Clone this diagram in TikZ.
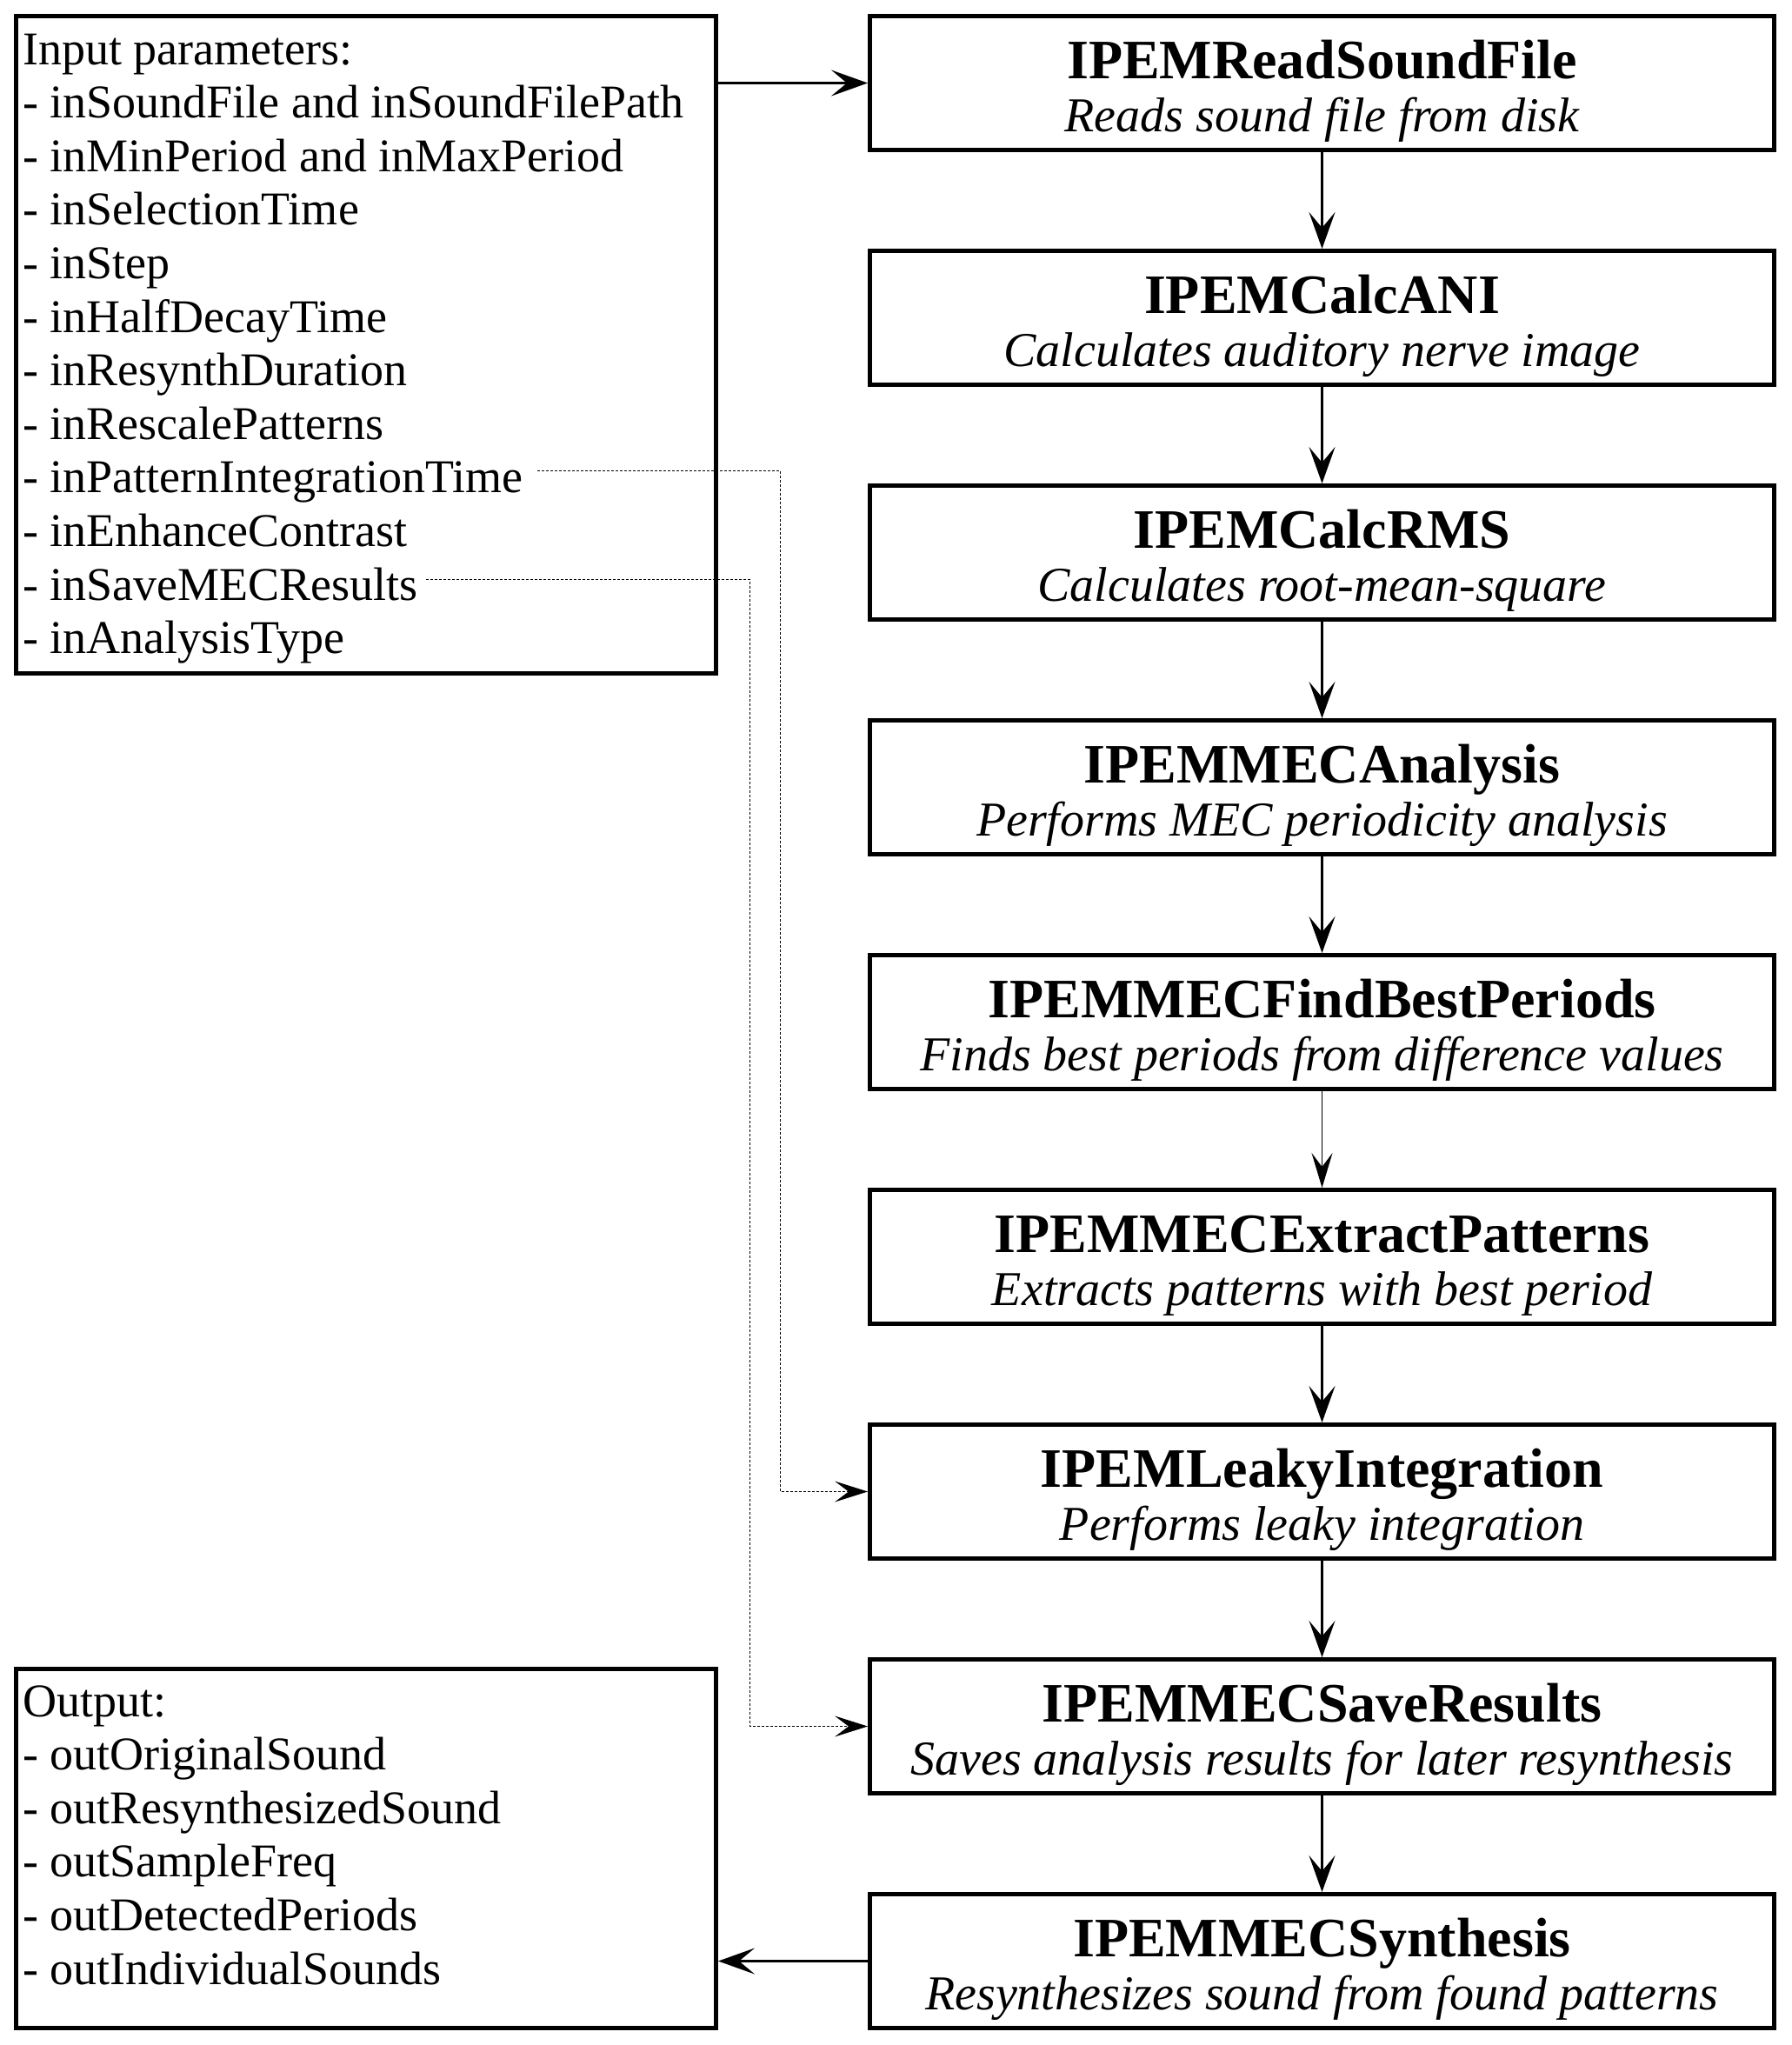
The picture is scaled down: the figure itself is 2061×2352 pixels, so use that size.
\documentclass[tikz,border=0pt]{standalone}
\usepackage{fontspec}
\setmainfont{Liberation Serif}
\usetikzlibrary{arrows.meta}
\begin{document}
\begin{tikzpicture}[x=0.5pt,y=-0.5pt,
  procbox/.style={draw, line width=2.5pt, minimum width=520pt, minimum height=77pt, inner sep=0pt},
  listbox/.style={draw, line width=2.5pt, minimum width=402.5pt, inner sep=0pt},
  ln/.style={anchor=base west, inner sep=0pt, font=\fontsize{27}{31}\selectfont},
  ttl/.style={anchor=base, inner sep=0pt, yshift=2.75pt, font=\bfseries\fontsize{32}{36}\selectfont},
  subt/.style={anchor=base, inner sep=0pt, yshift=-28pt, font=\itshape\fontsize{28}{32}\selectfont},
  arr/.style={-{Stealth[length=21pt,width=15pt,inset=9pt]}, line width=1.35pt},
  thinarr/.style={-{Stealth[length=20pt,width=12pt,inset=8pt]}, line width=0.5pt},
  dotarr/.style={-{Stealth[length=19pt,width=12pt,inset=8pt]}, line width=0.5pt, dash pattern=on 1.5pt off 1pt}
]
\useasboundingbox (0,0) rectangle (2061,2352);

% process boxes
\node[procbox] (b1) at (1520.5,95.5) {};
\node[procbox] (b2) at (1520.5,365.5) {};
\node[procbox] (b3) at (1520.5,635.5) {};
\node[procbox] (b4) at (1520.5,905.5) {};
\node[procbox] (b5) at (1520.5,1175.5) {};
\node[procbox] (b6) at (1520.5,1445.5) {};
\node[procbox] (b7) at (1520.5,1715.5) {};
\node[procbox] (b8) at (1520.5,1985.5) {};
\node[procbox] (b9) at (1520.5,2255.5) {};

\node[ttl] (t1) at (b1.center) {IPEMReadSoundFile};
\node[subt] (s1) at (b1.center) {Reads sound file from disk};
\node[ttl] (t2) at (b2.center) {IPEMCalcANI};
\node[subt] (s2) at (b2.center) {Calculates auditory nerve image};
\node[ttl] (t3) at (b3.center) {IPEMCalcRMS};
\node[subt] (s3) at (b3.center) {Calculates root-mean-square};
\node[ttl] (t4) at (b4.center) {IPEMMECAnalysis};
\node[subt] (s4) at (b4.center) {Performs MEC periodicity analysis};
\node[ttl] (t5) at (b5.center) {IPEMMECFindBestPeriods};
\node[subt] (s5) at (b5.center) {Finds best periods from difference values};
\node[ttl] (t6) at (b6.center) {IPEMMECExtractPatterns};
\node[subt] (s6) at (b6.center) {Extracts patterns with best period};
\node[ttl] (t7) at (b7.center) {IPEMLeakyIntegration};
\node[subt] (s7) at (b7.center) {Performs leaky integration};
\node[ttl] (t8) at (b8.center) {IPEMMECSaveResults};
\node[subt] (s8) at (b8.center) {Saves analysis results for later resynthesis};
\node[ttl] (t9) at (b9.center) {IPEMMECSynthesis};
\node[subt] (s9) at (b9.center) {Resynthesizes sound from found patterns};

% input and output boxes
\node[listbox, minimum height=378pt] (inbox) at (421,396.5) {};
\node[listbox, minimum height=206.5pt] (outbox) at (421,2126) {};

\node[ln] (i1) at (26,74) {Input parameters:};
\node[ln] (i2) at (26,135.6) {- inSoundFile and inSoundFilePath};
\node[ln] (i3) at (26,197.2) {- inMinPeriod and inMaxPeriod};
\node[ln] (i4) at (26,258.8) {- inSelectionTime};
\node[ln] (i5) at (26,320.4) {- inStep};
\node[ln] (i6) at (26,382) {- inHalfDecayTime};
\node[ln] (i7) at (26,443.6) {- inResynthDuration};
\node[ln] (i8) at (26,505.2) {- inRescalePatterns};
\node[ln] (i9) at (26,566.8) {- inPatternIntegrationTime};
\node[ln] (i10) at (26,628.4) {- inEnhanceContrast};
\node[ln] (i11) at (26,690) {- inSaveMECResults};
\node[ln] (i12) at (26,751.6) {- inAnalysisType};

\node[ln] (o1) at (26,1974) {Output:};
\node[ln] (o2) at (26,2035.6) {- outOriginalSound};
\node[ln] (o3) at (26,2097.2) {- outResynthesizedSound};
\node[ln] (o4) at (26,2158.8) {- outSampleFreq};
\node[ln] (o5) at (26,2220.4) {- outDetectedPeriods};
\node[ln] (o6) at (26,2282) {- outIndividualSounds};

% connectors
\draw[arr] (inbox.east |- b1.west) -- (b1.west);
\draw[arr] (b1) -- (b2);
\draw[arr] (b2) -- (b3);
\draw[arr] (b3) -- (b4);
\draw[arr] (b4) -- (b5);
\draw[thinarr] (b5) -- (b6);
\draw[arr] (b6) -- (b7);
\draw[arr] (b7) -- (b8);
\draw[arr] (b8) -- (b9);
\draw[arr] (b9.west) -- (outbox.east |- b9.west);

\coordinate (d1) at (618,541);
\coordinate (c1) at (897,541);
\coordinate (d2) at (490,666);
\coordinate (c2) at (862,666);
\draw[dotarr] (d1) -- (c1) |- (b7.west);
\draw[dotarr] (d2) -- (c2) |- (b8.west);
\end{tikzpicture}
\end{document}
